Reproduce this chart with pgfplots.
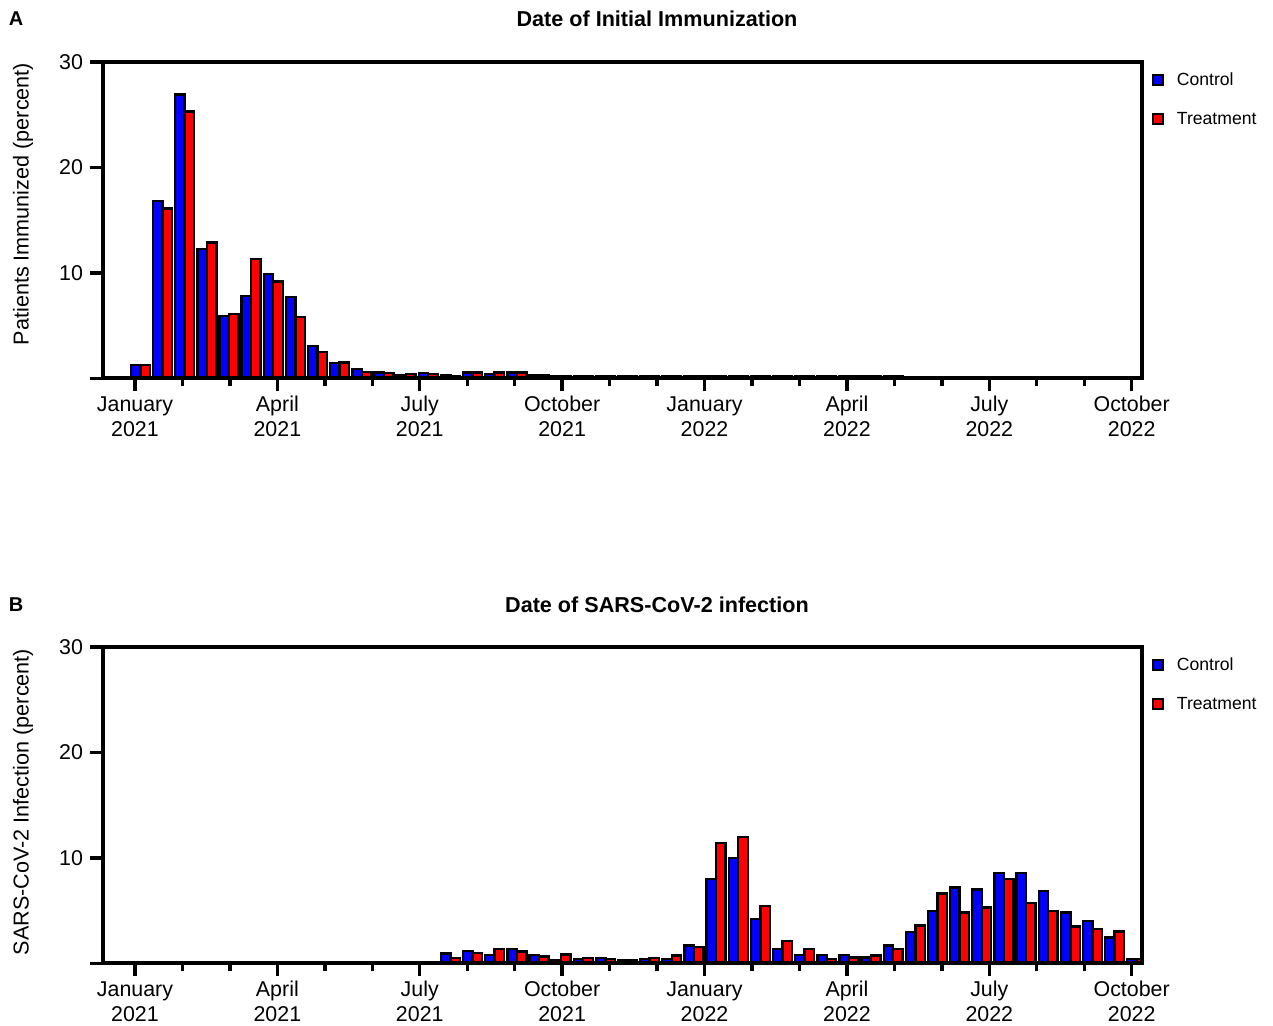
\documentclass[border=0pt]{standalone}
\usepackage{fontspec}
\setmainfont{Liberation Sans}
\usepackage{pgfplots}
\pgfplotsset{compat=1.18}
\usepackage{pgfplotstable}

\pgfplotstableread{
x ac at bc bt
0.114 1.3 1.3 0 0
0.581 16.8 16.1 0 0
1.047 26.9 25.3 0 0
1.514 12.3 12.9 0.1 0.1
1.980 5.9 6.1 0.1 0.1
2.447 7.8 11.3 0.1 0.1
2.913 9.9 9.2 0.1 0.1
3.380 7.7 5.8 0.1 0.1
3.846 3.1 2.5 0.1 0.1
4.313 1.45 1.5 0.1 0.1
4.779 0.9 0.6 0.1 0.1
5.246 0.55 0.5 0.1 0.1
5.712 0.3 0.45 0.1 0.1
6.179 0.5 0.4 0.1 0.1
6.645 0.3 0.25 0.95 0.5
7.112 0.55 0.55 1.2 1.0
7.578 0.4 0.55 0.8 1.4
8.045 0.55 0.55 1.35 1.15
8.511 0.35 0.3 0.8 0.65
8.978 0.2 0.2 0.35 0.85
9.444 0.2 0.2 0.45 0.5
9.911 0.2 0.2 0.5 0.4
10.377 0.2 0.2 0.35 0.3
10.844 0.2 0.2 0.45 0.5
11.310 0.2 0.2 0.45 0.75
11.777 0.2 0.2 1.7 1.55
12.243 0.2 0.2 8.0 11.4
12.710 0.2 0.2 10.0 12.0
13.176 0.2 0.2 4.2 5.45
13.643 0.2 0.2 1.35 2.15
14.109 0.2 0.2 0.8 1.4
14.576 0.2 0.2 0.8 0.4
15.042 0.2 0.2 0.8 0.55
15.509 0.2 0.2 0.55 0.75
15.975 0.2 0.2 1.7 1.35
16.442 0 0 3.0 3.6
16.908 0 0 5.0 6.65
17.375 0 0 7.2 4.85
17.841 0 0 7.0 5.3
18.308 0 0 8.6 8.0
18.774 0 0 8.55 5.75
19.241 0 0 6.85 5.0
19.707 0 0 4.85 3.5
20.174 0 0 4.0 3.25
20.640 0 0 2.45 3.05
21.107 0 0 0.4 0.4
}\data

\definecolor{cblue}{RGB}{0,0,255}
\definecolor{cred}{RGB}{255,0,0}

\pgfplotsset{
  panel/.style={
    scale only axis, width=519.25pt, height=158.25pt,
    xmin=-0.674, xmax=21.207, ymin=0, ymax=30,
    axis line style={line width=2pt},
    every tick/.style={line width=1.7pt, black},
    tick align=outside,
    xtick pos=bottom, ytick pos=left,
    major tick length=6.5pt, minor tick length=4pt,
    xtick={0,3,...,21},
    minor xtick={0,...,21},
    xticklabels={{\strut January\\2021},{\strut April\\2021},{\strut July\\2021},{\strut October\\2021},{\strut January\\2022},{\strut April\\2022},{\strut July\\2022},{\strut October\\2022}},
    xticklabel style={align=center, font=\fontsize{10.7}{12.5}\selectfont, yshift=2.5pt},
    ytick={0,10,20,30}, yticklabels={,10,20,30},
    yticklabel style={font=\fontsize{10.7}{12.5}\selectfont},
    /pgf/number format/assume math mode=true,
    axis on top,
    legend style={at={(1,1)}, anchor=north west, xshift=5pt, yshift=-3pt,
      draw=none, fill=none, inner sep=0pt,
      font=\fontsize{8.8}{10.5}\selectfont, row sep=8pt,
      /tikz/every odd column/.append style={column sep=4.5pt}},
    legend cell align=left,
    legend image code/.code={\draw[#1, line width=1pt] (0pt,-2.3pt) rectangle (5pt,2.7pt);},
  },
  cbar/.style={ybar, bar width=0.2, bar shift=-0.1, fill=cblue, draw=black, line width=1.2pt},
  tbar/.style={ybar, bar width=0.2, bar shift=0.1, fill=cred, draw=black, line width=1.2pt},
}

\begin{document}
\begin{tikzpicture}
\path[use as bounding box] (0,0) rectangle (636.5pt,513pt);

\begin{axis}[panel, at={(51.5pt,323.75pt)}, anchor=south west]
\addplot[cbar] table[x=x, y=ac] {\data};
\addlegendentry{Control}
\addplot[tbar] table[x=x, y=at] {\data};
\addlegendentry{Treatment}
\end{axis}

\begin{axis}[panel, at={(51.5pt,31.25pt)}, anchor=south west]
\addplot[cbar] table[x=x, y=bc] {\data};
\addlegendentry{Control}
\addplot[tbar] table[x=x, y=bt] {\data};
\addlegendentry{Treatment}
\end{axis}

\node[font=\bfseries\fontsize{10}{12}\selectfont] at (8pt,503.5pt) {A};
\node[font=\bfseries\fontsize{10}{12}\selectfont] at (8pt,210.5pt) {B};
\node[font=\bfseries\fontsize{10.8}{13}\selectfont] at (328.5pt,503.5pt) {Date of Initial Immunization};
\node[font=\bfseries\fontsize{10.8}{13}\selectfont] at (328.5pt,210.5pt) {Date of SARS-CoV-2 infection};
\node[font=\fontsize{10.8}{13}\selectfont, rotate=90] at (11.5pt,411pt) {Patients Immunized (percent)};
\node[font=\fontsize{10.8}{13}\selectfont, rotate=90] at (11.5pt,112pt) {SARS-CoV-2 Infection (percent)};
\end{tikzpicture}
\end{document}
